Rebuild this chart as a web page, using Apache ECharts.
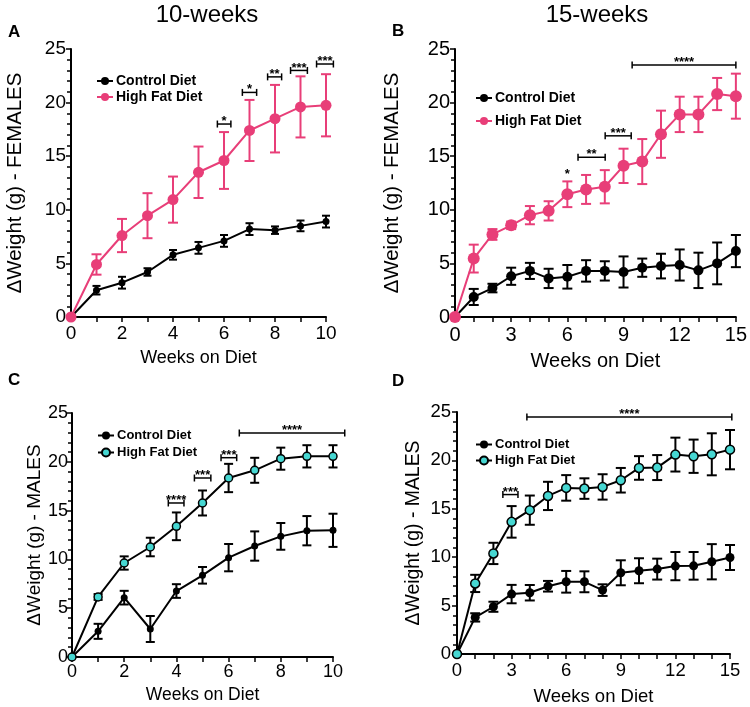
<!DOCTYPE html>
<html>
<head>
<meta charset="utf-8">
<script src="https://cdn.jsdelivr.net/npm/echarts@6/dist/echarts.min.js"></script>
<style>html,body{margin:0;padding:0;background:#fff}#c{width:750px;height:707px}</style>
</head>
<body>
<div id="c"></div>
<script>
// ---------- DATA ----------
const weeks10 = [0,1,2,3,4,5,6,7,8,9,10];
const weeks15 = [0,1,2,3,4,5,6,7,8,9,10,11,12,13,14,15];

// A: 10 weeks, females
const ctrlA    = [0, 2.5, 3.2, 4.2, 5.8, 6.45, 7.1, 8.2, 8.1, 8.5, 8.9];
const ctrlAErr = [0, 0.4, 0.55, 0.35, 0.45, 0.55, 0.55, 0.55, 0.35, 0.5, 0.55];
const hfdA     = [0, 4.9, 7.6, 9.45, 10.95, 13.5, 14.6, 17.4, 18.5, 19.6, 19.75];
const hfdAErr  = [0, 0.95, 1.55, 2.1, 2.15, 2.4, 2.65, 2.85, 3.15, 2.85, 2.9];
const sigA = [[5.74,6.27,18.0,'*'],[6.72,7.28,20.95,'*'],[7.71,8.26,22.4,'**'],[8.61,9.27,23.0,'***'],[9.63,10.29,23.6,'***']];

// B: 15 weeks, females
const ctrlB    = [0, 1.87, 2.7, 3.8, 4.3, 3.6, 3.75, 4.3, 4.3, 4.2, 4.6, 4.75, 4.85, 4.35, 5.0, 6.15];
const ctrlBErr = [0, 0.75, 0.4, 0.8, 0.75, 0.9, 1.1, 1.0, 0.9, 1.45, 0.85, 1.15, 1.45, 1.65, 1.95, 1.5];
const hfdB     = [0, 5.45, 7.7, 8.55, 9.5, 9.9, 11.45, 11.9, 12.15, 14.1, 14.5, 17.05, 18.9, 18.9, 20.8, 20.6];
const hfdBErr  = [0, 1.3, 0.5, 0.35, 0.85, 0.9, 1.2, 1.35, 1.55, 1.6, 2.1, 2.2, 1.65, 1.65, 1.5, 2.1];
const sigB = [[6,6,13.3,'*'],[6.57,8.02,14.9,'**'],[8.02,9.41,16.9,'***'],[9.46,15,23.5,'****']];

// C: 10 weeks, males
const ctrlC    = [0, 2.63, 6.08, 2.87, 6.76, 8.37, 10.18, 11.37, 12.36, 12.94, 12.98];
const ctrlCErr = [0, 0.77, 0.7, 1.33, 0.7, 0.85, 1.4, 1.5, 1.37, 1.5, 1.7];
const hfdC     = [0, 6.15, 9.63, 11.27, 13.39, 15.78, 18.34, 19.13, 20.32, 20.56, 20.56];
const hfdCErr  = [0, 0.3, 0.68, 0.95, 1.42, 1.28, 1.45, 1.28, 1.13, 1.14, 1.14];
const sigC = [[3.69,4.29,15.78,'****'],[4.69,5.32,18.34,'***'],[5.71,6.31,20.42,'***'],[6.41,10.45,22.95,'****']];

// D: 15 weeks, males
const ctrlD    = [0, 3.78, 4.88, 6.19, 6.33, 7.0, 7.46, 7.46, 6.6, 8.39, 8.6, 8.77, 9.08, 9.11, 9.53, 9.97];
const ctrlDErr = [0, 0.43, 0.52, 0.95, 0.8, 0.55, 1.12, 1.08, 0.6, 1.29, 1.29, 1.08, 1.46, 1.43, 1.82, 1.29];
const hfdD     = [0, 7.29, 10.39, 13.65, 14.86, 16.33, 17.16, 17.09, 17.26, 17.95, 19.22, 19.26, 20.6, 20.43, 20.63, 21.11];
const hfdDErr  = [0, 0.89, 1.1, 1.63, 1.51, 1.46, 1.32, 1.06, 1.31, 1.27, 1.22, 1.29, 1.75, 1.72, 2.17, 2.03];
const sigD = [[2.52,3.35,16.47,'***'],[3.84,15.1,24.48,'****']];

// ---------- STYLE ----------
const FONT = 'Liberation Sans, Arial, Helvetica, sans-serif';
const PINK = '#E83E78';
const CYAN = '#46D7D2';
const BLACK = '#000';

const grids = [
  {left:71,  top:49,  width:255, height:268},
  {left:455, top:49,  width:282, height:268},
  {left:72,  top:413, width:261, height:244},
  {left:457, top:412, width:273, height:242}
];

function xAxis(idx, max, interval, fs, nameFs, nameGap, margin){
  return {
    type:'value', gridIndex:idx, min:0, max:max, interval:interval,
    name:'Weeks on Diet', nameLocation:'middle', nameGap:nameGap,
    nameTextStyle:{fontFamily:FONT, fontSize:nameFs, color:BLACK},
    axisLine:{show:true, onZero:false, lineStyle:{color:BLACK, width:2}},
    axisTick:{show:true, length:5, lineStyle:{color:BLACK, width:1.5}},
    minorTick:{show:true, splitNumber:interval, length:5, lineStyle:{color:BLACK, width:1.5}},
    axisLabel:{fontFamily:FONT, fontSize:fs, color:BLACK, margin:margin},
    splitLine:{show:false}
  };
}
function yAxis(idx, name, fs, nameFs, nameGap, margin){
  return {
    type:'value', gridIndex:idx, min:0, max:25, interval:5,
    name:name, nameLocation:'middle', nameGap:nameGap, nameRotate:90,
    nameTextStyle:{fontFamily:FONT, fontSize:nameFs, color:BLACK},
    axisLine:{show:true, onZero:false, lineStyle:{color:BLACK, width:2}},
    axisTick:{show:true, length:5, lineStyle:{color:BLACK, width:1.5}},
    minorTick:{show:true, splitNumber:5, length:4, lineStyle:{color:BLACK, width:1.5}},
    axisLabel:{fontFamily:FONT, fontSize:fs, color:BLACK, margin:margin},
    splitLine:{show:false}
  };
}

function lineSeries(idx, name, xs, ys, lineColor, symColor, symSize, border){
  return {
    type:'line', name:name, xAxisIndex:idx, yAxisIndex:idx,
    data: xs.map((x,i)=>[x, ys[i]]),
    symbol:'circle', symbolSize:symSize, showSymbol:true,
    lineStyle:{color:lineColor, width:2},
    itemStyle:{color:symColor, borderColor: border ? BLACK : symColor, borderWidth: border ? 1.5 : 0, opacity:1},
    z:5, animation:false
  };
}

function errSeries(idx, xs, ys, errs, color, capW){
  return {
    type:'custom', xAxisIndex:idx, yAxisIndex:idx, silent:true, z:3, animation:false,
    data: xs.map((x,i)=>[x, ys[i]-errs[i], ys[i]+errs[i], errs[i]]).filter(d=>d[3]>0),
    renderItem:function(params, api){
      const x = api.value(0);
      const p1 = api.coord([x, api.value(2)]);
      const p2 = api.coord([x, api.value(1)]);
      const st = {stroke:color, lineWidth:2};
      return {type:'group', children:[
        {type:'line', shape:{x1:p1[0], y1:p1[1], x2:p2[0], y2:p2[1]}, style:st},
        {type:'line', shape:{x1:p1[0]-capW/2, y1:p1[1], x2:p1[0]+capW/2, y2:p1[1]}, style:st},
        {type:'line', shape:{x1:p2[0]-capW/2, y1:p2[1], x2:p2[0]+capW/2, y2:p2[1]}, style:st}
      ]};
    }
  };
}

function sigSeries(idx, sig, starFs){
  return {
    type:'custom', xAxisIndex:idx, yAxisIndex:idx, silent:true, z:6, animation:false,
    clip:false,
    data: sig.map(s=>[s[0], s[1], s[2]]),
    renderItem:function(params, api){
      const s = sig[params.dataIndex];
      const a = api.coord([api.value(0), api.value(2)]);
      const b = api.coord([api.value(1), api.value(2)]);
      const st = {stroke:BLACK, lineWidth:1.5};
      const children = [];
      if (b[0] - a[0] > 1) {
        children.push({type:'line', shape:{x1:a[0], y1:a[1], x2:b[0], y2:b[1]}, style:st});
        children.push({type:'line', shape:{x1:a[0], y1:a[1]-3.5, x2:a[0], y2:a[1]+3.5}, style:st});
        children.push({type:'line', shape:{x1:b[0], y1:b[1]-3.5, x2:b[0], y2:b[1]+3.5}, style:st});
      }
      children.push({type:'text', style:{text:s[3], x:(a[0]+b[0])/2, y:a[1]+ (b[0]-a[0] > 1 ? 4 : 6), textAlign:'center', textVerticalAlign:'bottom',
        font:'bold '+starFs+'px '+FONT, fill:BLACK}});
      return {type:'group', children:children};
    }
  };
}

function legend(names, left, top, gap, fs){
  return {
    data:names, left:left, top:top, orient:'vertical', itemGap:gap,
    itemWidth:16, itemHeight:10, selectedMode:false,
    formatter:function(n){return n.slice(2);},
    textStyle:{fontFamily:FONT, fontSize:fs, fontWeight:'bold', color:BLACK, padding:[0,0,0,-2]}
  };
}

const option = {
  backgroundColor:'#fff',
  animation:false,
  grid: grids,
  xAxis:[
    xAxis(0, 10, 2, 19, 18, 32, 7),
    xAxis(1, 15, 3, 20, 20, 34, 8),
    xAxis(2, 10, 2, 18, 17.5, 29, 6),
    xAxis(3, 15, 3, 18.5, 18.5, 33, 7)
  ],
  yAxis:[
    yAxis(0, 'ΔWeight (g) - FEMALES', 19, 20.4, 46, 5),
    yAxis(1, 'ΔWeight (g) - FEMALES', 20, 20.4, 53, 5),
    yAxis(2, 'ΔWeight (g) - MALES', 18, 19, 24, 4),
    yAxis(3, 'ΔWeight (g) - MALES', 18.5, 19.4, 34, 6)
  ],
  legend:[
    legend(['A:Control Diet','A:High Fat Diet'], 91, 69, 2, 14),
    legend(['B:Control Diet','B:High Fat Diet'], 470, 86, 9, 14),
    legend(['C:Control Diet','C:High Fat Diet'], 92, 424, 4, 13),
    legend(['D:Control Diet','D:High Fat Diet'], 470, 433, 3, 13)
  ],
  graphic:[
    {type:'text', left:'center', style:{text:'10-weeks', x:207, y:15, textAlign:'center', textVerticalAlign:'middle', font:'24px '+FONT, fill:BLACK}, left:null},
    {type:'text', style:{text:'15-weeks', x:597, y:15, textAlign:'center', textVerticalAlign:'middle', font:'24px '+FONT, fill:BLACK}},
    {type:'text', style:{text:'A', x:8, y:32, textVerticalAlign:'middle', font:'bold 17px '+FONT, fill:BLACK}},
    {type:'text', style:{text:'B', x:392, y:31, textVerticalAlign:'middle', font:'bold 17px '+FONT, fill:BLACK}},
    {type:'text', style:{text:'C', x:8, y:380, textVerticalAlign:'middle', font:'bold 17px '+FONT, fill:BLACK}},
    {type:'text', style:{text:'D', x:392, y:381, textVerticalAlign:'middle', font:'bold 17px '+FONT, fill:BLACK}}
  ],
  series:[
    errSeries(0, weeks10, ctrlA, ctrlAErr, BLACK, 8),
    errSeries(0, weeks10, hfdA, hfdAErr, PINK, 10),
    lineSeries(0, 'A:Control Diet', weeks10, ctrlA, BLACK, BLACK, 7, false),
    lineSeries(0, 'A:High Fat Diet', weeks10, hfdA, PINK, PINK, 11, false),
    sigSeries(0, sigA, 13),

    errSeries(1, weeks15, ctrlB, ctrlBErr, BLACK, 10),
    errSeries(1, weeks15, hfdB, hfdBErr, PINK, 10),
    lineSeries(1, 'B:Control Diet', weeks15, ctrlB, BLACK, BLACK, 10, false),
    lineSeries(1, 'B:High Fat Diet', weeks15, hfdB, PINK, PINK, 12, false),
    sigSeries(1, sigB, 13),

    errSeries(2, weeks10, ctrlC, ctrlCErr, BLACK, 9),
    errSeries(2, weeks10, hfdC, hfdCErr, BLACK, 9),
    lineSeries(2, 'C:Control Diet', weeks10, ctrlC, BLACK, BLACK, 7, false),
    lineSeries(2, 'C:High Fat Diet', weeks10, hfdC, BLACK, CYAN, 8, true),
    sigSeries(2, sigC, 13),

    errSeries(3, weeks15, ctrlD, ctrlDErr, BLACK, 10),
    errSeries(3, weeks15, hfdD, hfdDErr, BLACK, 10),
    lineSeries(3, 'D:Control Diet', weeks15, ctrlD, BLACK, BLACK, 9, false),
    lineSeries(3, 'D:High Fat Diet', weeks15, hfdD, BLACK, CYAN, 9, true),
    sigSeries(3, sigD, 13)
  ]
};

const chart = echarts.init(document.getElementById('c'), null, {renderer:'canvas'});
chart.setOption(option);
</script>
</body>
</html>
